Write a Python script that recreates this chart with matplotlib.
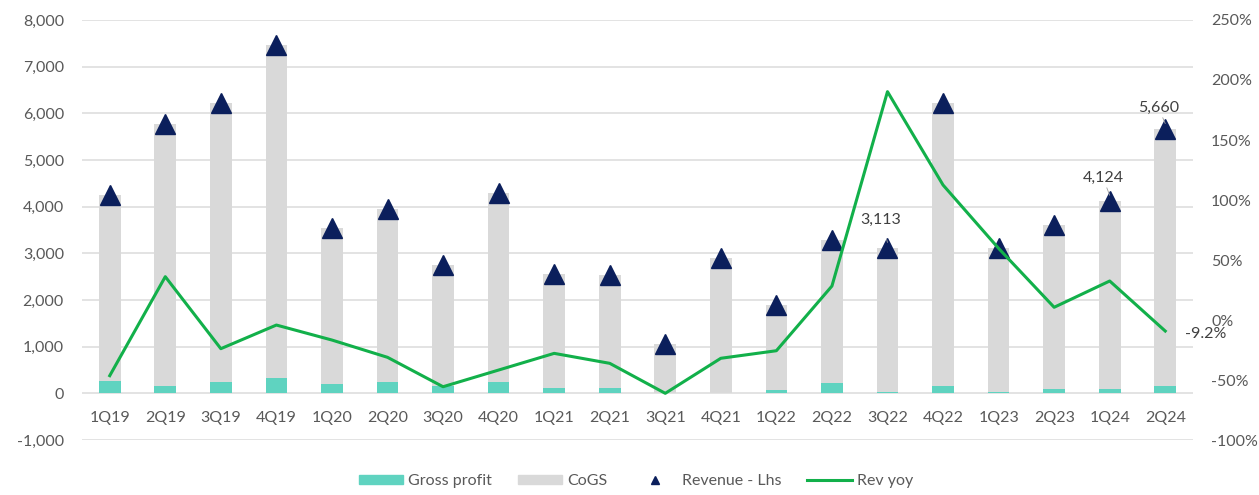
import numpy as np
import matplotlib
matplotlib.use("Agg")
import matplotlib.pyplot as plt
from matplotlib.patches import Patch
from matplotlib.lines import Line2D
from matplotlib.ticker import FuncFormatter

plt.rcParams['font.family'] = ['Lato', 'DejaVu Sans']

quarters = ['1Q19', '2Q19', '3Q19', '4Q19', '1Q20', '2Q20', '3Q20', '4Q20', '1Q21', '2Q21',
            '3Q21', '4Q21', '1Q22', '2Q22', '3Q22', '4Q22', '1Q23', '2Q23', '1Q24', '2Q24']
revenue = [4240, 5775, 6220, 7460, 3535, 3950, 2755, 4290, 2555, 2535,
           1050, 2910, 1900, 3290, 3113, 6225, 3115, 3600, 4124, 5660]
gross_profit = [270, 165, 245, 330, 195, 235, 150, 245, 115, 115,
                5, 5, 65, 215, 30, 165, 35, 95, 95, 165]
rev_yoy = [-46.4, 36.1, -23.9, -4.2, -16.7, -31.1, -55.6, -41.7, -27.8, -36.1,
           -61.1, -31.9, -25.6, 28.3, 190.3, 112.5, 59.7, 10.6, 32.5, -9.2]

# labelled points: (index, text, text y on lhs)
rev_labels = [(14, '3,113', 3712), (18, '4,124', 4614), (19, '5,660', 6116)]

TEAL = '#5fd3c0'
GREY = '#d9d9d9'
NAVY = '#0b1f5c'
GREEN = '#12b04a'
TXT = '#595959'

cogs = np.array(revenue) - np.array(gross_profit)
x = np.arange(len(quarters))

fig = plt.figure(figsize=(12.59, 4.95), dpi=100)
ax = fig.add_axes([0.0651, 0.1111, 0.8825, 0.8485])
ax2 = ax.twinx()

bw = 0.39
ax.bar(x, gross_profit, bw, color=TEAL, zorder=2)
ax.bar(x, cogs, bw, bottom=gross_profit, color=GREY, zorder=2)
ax.plot(x, revenue, linestyle='none', marker='^', markersize=14, color=NAVY, zorder=3)

ax.set_xlim(-0.5, len(quarters) - 0.5)
ax.set_ylim(-1000, 8000)
ax.set_yticks(np.arange(-1000, 8001, 1000))
ax.yaxis.set_major_formatter(FuncFormatter(lambda v, p: f'{int(v):,}'))
ax.grid(True, axis='y', color='#e3e3e3', linewidth=1.4)
ax.set_axisbelow(True)
ax.set_xticks([])
for s in ax.spines.values():
    s.set_visible(False)
ax.tick_params(axis='y', length=0, pad=13, labelsize=11.5, labelcolor=TXT)

for i, q in enumerate(quarters):
    ax.text(i, -530, q, ha='center', va='center', fontsize=11.5, color=TXT)

for i, t, ty in rev_labels:
    ax.annotate(t, xy=(i, revenue[i] + 120), xytext=(i - 0.12, ty),
                ha='center', va='center', fontsize=11.5, color='#404040',
                arrowprops=dict(arrowstyle='-', color='#a0a0a0', lw=0.6,
                                shrinkA=7, shrinkB=0), zorder=4)

ax2.plot(x, rev_yoy, color=GREEN, linewidth=2.2, zorder=5)
ax2.set_ylim(-100, 250)
ax2.set_yticks(np.arange(-100, 251, 50))
ax2.yaxis.set_major_formatter(FuncFormatter(lambda v, p: f'{int(v)}%'))
for s in ax2.spines.values():
    s.set_visible(False)
ax2.tick_params(axis='y', length=0, pad=13, labelsize=11.5, labelcolor=TXT)
ax2.annotate('-9.2%', xy=(x[-1], rev_yoy[-1]), xytext=(14, -2), textcoords='offset points',
             ha='left', va='center', fontsize=11.5, color='#404040', annotation_clip=False)

handles = [Patch(color=TEAL), Patch(color=GREY),
           Line2D([], [], linestyle='none', marker='^', markersize=6, color=NAVY),
           Line2D([], [], color=GREEN, linewidth=2.2)]
fig.legend(handles, ['Gross profit', 'CoGS', 'Revenue - Lhs', 'Rev yoy'],
           loc='center', bbox_to_anchor=(0.505, 0.028), ncol=4, frameon=False,
           fontsize=11.5, labelcolor=TXT, handlelength=2.8, handleheight=0.45,
           handletextpad=0.3, columnspacing=1.6)

fig.savefig('out.png', dpi=100)
